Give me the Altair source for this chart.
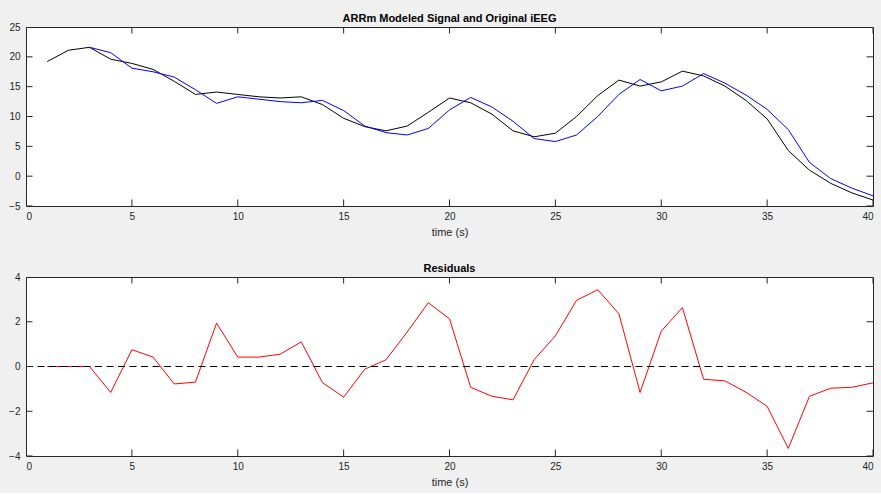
import altair as alt
import pandas as pd

# ---- data ----
time_s = list(range(1, 41))
ieeg_original = [19.2, 21.1, 21.6, 19.6, 18.9, 17.9, 15.9, 13.7, 14.1, 13.7,
                 13.3, 13.1, 13.3, 12.0, 9.7, 8.3, 7.6, 8.4, 10.7, 13.1,
                 12.3, 10.4, 7.6, 6.6, 7.2, 10.0, 13.5, 16.1, 15.1, 15.8,
                 17.6, 16.8, 15.1, 12.7, 9.6, 4.3, 1.0, -1.2, -2.8, -4.0]
model_time = list(range(3, 41))
arrm_model = [21.6, 20.7, 18.1, 17.5, 16.6, 14.5, 12.2, 13.3, 12.9, 12.5,
              12.3, 12.7, 11.0, 8.4, 7.3, 6.9, 8.0, 11.1, 13.2, 11.6,
              9.2, 6.3, 5.8, 6.9, 10.0, 13.7, 16.2, 14.3, 15.1, 17.2,
              15.6, 13.6, 11.2, 7.8, 2.3, -0.4, -2.0, -3.3]
residuals = [0.0, 0.0, 0.0, -1.16, 0.75, 0.42, -0.78, -0.70, 1.94, 0.42,
             0.42, 0.55, 1.10, -0.72, -1.37, -0.12, 0.30, 1.54, 2.85, 2.13,
             -0.93, -1.33, -1.49, 0.31, 1.37, 2.96, 3.43, 2.36, -1.16, 1.58,
             2.63, -0.57, -0.64, -1.15, -1.78, -3.66, -1.33, -0.97, -0.93, -0.73]

x_ticks = [0, 5, 10, 15, 20, 25, 30, 35, 40]
x_range = [0, 40]
y_range_top = [-5, 25]
y_ticks_top = [-5, 0, 5, 10, 15, 20, 25]
y_range_bottom = [-4, 4]
y_ticks_bottom = [-4, -2, 0, 2, 4]

df_orig = pd.DataFrame({"t": time_s, "v": ieeg_original})
df_model = pd.DataFrame({"t": model_time, "v": arrm_model})
df_res = pd.DataFrame({"t": time_s, "v": residuals})
df_zero = pd.DataFrame({"t": x_range, "v": [0, 0]})

W, H = 847, 179
AX = "#262626"
FONT = "Liberation Sans"


def panel(line_layers, ydom, yt, title):
    xs = alt.Scale(domain=x_range, nice=False, zero=False)
    ys = alt.Scale(domain=ydom, nice=False, zero=False)
    common = dict(domain=False, ticks=False, labelColor=AX, labelFont=FONT,
                  labelFontSize=10, grid=False)
    xa = alt.Axis(values=x_ticks, title="time (s)", titleFont=FONT,
                  titleFontSize=11, titleFontWeight="normal", titleColor=AX,
                  labelPadding=5, titlePadding=5, **common)
    ya = alt.Axis(values=yt, title="", labelPadding=6, **common)

    layers = []
    for df, color, dash in line_layers:
        mk = dict(color=color, strokeWidth=1)
        if dash:
            mk["strokeDash"] = dash
        layers.append(alt.Chart(df).mark_line(**mk).encode(
            x=alt.X("t:Q", scale=xs, axis=xa),
            y=alt.Y("v:Q", scale=ys, axis=ya)))

    # inward tick marks on all four sides (MATLAB box style)
    xt_df = pd.DataFrame([(t, v) for t in x_ticks for v in ydom], columns=["t", "v"])
    yt_df = pd.DataFrame([(t, v) for v in yt for t in x_range], columns=["t", "v"])
    layers.append(alt.Chart(xt_df).mark_tick(
        orient="vertical", size=13, thickness=1, color=AX, clip=True, opacity=1
    ).encode(x=alt.X("t:Q", scale=xs, axis=xa), y=alt.Y("v:Q", scale=ys, axis=ya)))
    layers.append(alt.Chart(yt_df).mark_tick(
        orient="horizontal", size=13, thickness=1, color=AX, clip=True, opacity=1
    ).encode(x=alt.X("t:Q", scale=xs, axis=xa), y=alt.Y("v:Q", scale=ys, axis=ya)))

    return alt.layer(*layers).properties(
        width=W, height=H,
        title=alt.TitleParams(title, font=FONT, fontSize=11, fontWeight="bold",
                              color="#000000", offset=-2, anchor="middle"))


top = panel([(df_orig, "#000000", None), (df_model, "#0000ff", None)],
            y_range_top, y_ticks_top, "ARRm Modeled Signal and Original iEEG")
bottom = panel([(df_res, "#ff0000", None), (df_zero, "#000000", [7, 4.5])],
               y_range_bottom, y_ticks_bottom, "Residuals")

chart = alt.vconcat(top, bottom, spacing=71, bounds="flush").properties(
    background="#f0f0f0",
    padding={"left": 8, "top": 12, "right": 5, "bottom": 5},
).configure_view(fill="white", stroke=AX, strokeWidth=1)

chart.save("out.html", embed_options={"renderer": "svg", "actions": False})
